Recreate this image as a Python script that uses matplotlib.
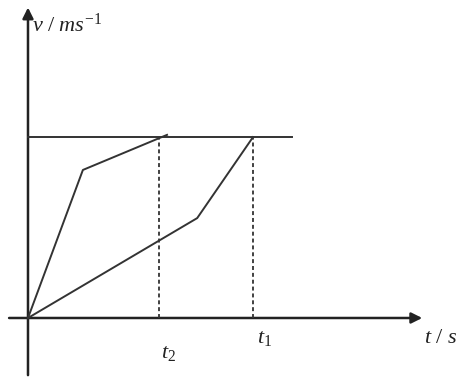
import matplotlib
matplotlib.use("Agg")
import matplotlib.pyplot as plt
from matplotlib.patches import FancyArrowPatch

plt.rcParams['mathtext.fontset'] = 'custom'
plt.rcParams['mathtext.it'] = 'Liberation Serif:italic'
plt.rcParams['mathtext.rm'] = 'Liberation Serif'
plt.rcParams['mathtext.bf'] = 'Liberation Serif:bold'

# Data (arbitrary units)
v0 = 4.02                      # constant (max) speed level
t1 = 5.0
t2 = 2.91
curve1_t = [0.0, 1.22, 3.09]
curve1_v = [0.0, 3.29, 4.07]
curve2_t = [0.0, 3.76, 5.0]
curve2_v = [0.0, 2.22, 4.02]
level_t = [0.0, 5.87]
x_axis_range = [-0.42, 8.76]
y_axis_range = [-1.27, 6.9]
tick_labels = {"t2": r"$t_2$", "t1": r"$t_1$"}

fig = plt.figure(figsize=(4.6, 3.8), dpi=100)
ax = fig.add_axes([0, 0, 1, 1])
ax.set_xlim(-0.622, 9.6)
ax.set_ylim(-1.378, 7.067)
ax.axis('off')

axc = '#222222'
# axes with arrows
for (x0, y0), (x1, y1) in [((x_axis_range[0], 0), (x_axis_range[1], 0)),
                           ((0, y_axis_range[0]), (0, y_axis_range[1]))]:
    arr = FancyArrowPatch((x0, y0), (x1, y1), arrowstyle='-|>', mutation_scale=16,
                          lw=1.8, color=axc, shrinkA=0, shrinkB=0)
    ax.add_patch(arr)

lc = '#333333'
ax.plot(level_t, [v0, v0], color=lc, lw=1.4)
ax.plot(curve1_t, curve1_v, color=lc, lw=1.4)
ax.plot(curve2_t, curve2_v, color=lc, lw=1.4)
for tt in (t2, t1):
    ax.plot([tt, tt], [0, v0], color=lc, lw=1.3, linestyle=(0, (2.2, 1.6)))

fs = 16
ax.text(t2 + 0.05, -0.55, tick_labels["t2"], fontsize=fs, ha='left', va='top', color='#222222')
ax.text(t1 + 0.09, -0.22, tick_labels["t1"], fontsize=fs, ha='left', va='top', color='#222222')
ax.text(8.8, -0.2, r"$t\ /\ s$", fontsize=fs, ha='left', va='top', color='#222222')
ax.text(0.1, 6.52, r"$v\ /\ ms^{-1}$", fontsize=fs, ha='left', va='center', color='#222222')

fig.savefig("out.png", dpi=100)
